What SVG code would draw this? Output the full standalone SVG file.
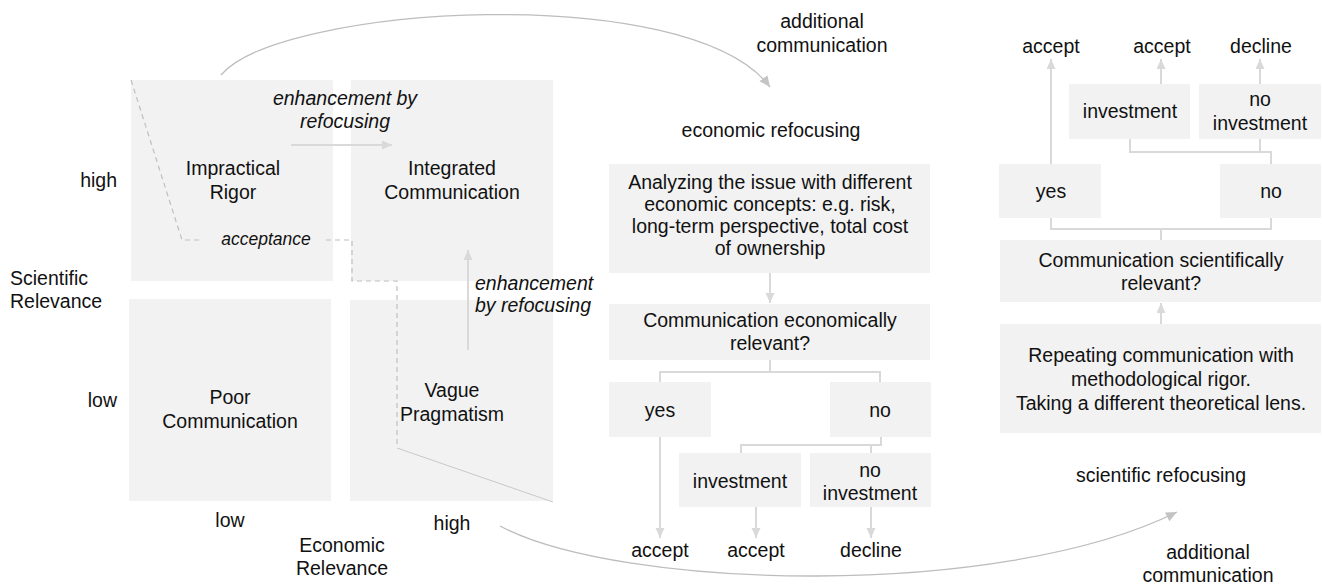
<svg xmlns="http://www.w3.org/2000/svg" width="1322" height="586" viewBox="0 0 1322 586">
  <style>
    text { font-family: "Liberation Sans", Arial, sans-serif; font-size: 19.5px; fill: #111; }
    .c { text-anchor: middle; }
    .e { text-anchor: end; }
    .it { font-style: italic; }
    .sm { font-size: 17.5px; }
    .box { fill: #f2f2f2; }
    .link { fill: none; stroke: #d9d9d9; stroke-width: 2; }
    .arrow { fill: none; stroke: #d9d9d9; stroke-width: 2; marker-end: url(#head); }
    .curve { fill: none; stroke: #bdbdbd; stroke-width: 1.3; marker-end: url(#headCurve); }
    .dash { fill: none; stroke: #bfbfbf; stroke-width: 1.2; stroke-dasharray: 5 4; }
    .thin { fill: none; stroke: #c8c8c8; stroke-width: 1; }
  </style>
  <defs>
    <marker id="head" markerUnits="userSpaceOnUse" markerWidth="11" markerHeight="10" refX="10" refY="4.5" orient="auto">
      <path d="M0,0 L10,4.5 L0,9 z" fill="#d9d9d9"/>
    </marker>
    <marker id="headCurve" markerUnits="userSpaceOnUse" markerWidth="12" markerHeight="11" refX="11" refY="5" orient="auto">
      <path d="M0,0 L11,5 L0,10 z" fill="#c4c4c4"/>
    </marker>
  </defs>

  <!-- Portfolio matrix axes -->
  <g id="axis-scientific">
    <text class="e" x="117" y="187">high</text>
    <text x="10" y="285">Scientific</text>
    <text x="10" y="308">Relevance</text>
    <text class="e" x="117" y="407">low</text>
  </g>
  <g id="axis-economic">
    <text class="c" x="230" y="527">low</text>
    <text class="c" x="452" y="530">high</text>
    <text class="c" x="342" y="552">Economic</text>
    <text class="c" x="342" y="575">Relevance</text>
  </g>

  <!-- Quadrants -->
  <g id="q-impractical-rigor">
    <rect class="box" x="131" y="80" width="202" height="201"/>
    <text class="c" x="233" y="175">Impractical</text>
    <text class="c" x="233" y="199">Rigor</text>
  </g>
  <g id="q-integrated-communication">
    <rect class="box" x="351" y="80" width="202" height="201"/>
    <text class="c" x="452" y="175">Integrated</text>
    <text class="c" x="452" y="199">Communication</text>
  </g>
  <g id="q-poor-communication">
    <rect class="box" x="129" y="299" width="202" height="202"/>
    <text class="c" x="230" y="404">Poor</text>
    <text class="c" x="230" y="428">Communication</text>
  </g>
  <g id="q-vague-pragmatism">
    <rect class="box" x="350" y="300" width="203" height="201"/>
    <text class="c" x="452" y="397">Vague</text>
    <text class="c" x="452" y="421">Pragmatism</text>
  </g>

  <!-- Economic refocusing branch -->
  <g id="lbl-economic-refocusing">
    <text class="c" x="771" y="137">economic refocusing</text>
  </g>
  <g id="eco-analyze">
    <rect class="box" x="609" y="164" width="321" height="109"/>
    <text class="c" x="770" y="189">Analyzing the issue with different</text>
    <text class="c" x="770" y="211">economic concepts: e.g. risk,</text>
    <text class="c" x="770" y="233">long-term perspective, total cost</text>
    <text class="c" x="770" y="255">of ownership</text>
  </g>
  <g id="eco-question">
    <rect class="box" x="609" y="304" width="321" height="56"/>
    <text class="c" x="770" y="327">Communication economically</text>
    <text class="c" x="770" y="350">relevant?</text>
  </g>
  <g id="eco-yes">
    <rect class="box" x="609" y="382" width="102" height="55"/>
    <text class="c" x="660" y="417">yes</text>
  </g>
  <g id="eco-no">
    <rect class="box" x="830" y="382" width="101" height="55"/>
    <text class="c" x="880" y="417">no</text>
  </g>
  <g id="eco-investment">
    <rect class="box" x="679" y="453" width="122" height="54"/>
    <text class="c" x="740" y="488">investment</text>
  </g>
  <g id="eco-no-investment">
    <rect class="box" x="810" y="453" width="121" height="54"/>
    <text class="c" x="870" y="477">no</text>
    <text class="c" x="870" y="500">investment</text>
  </g>
  <g id="eco-outcomes">
    <text class="c" x="660" y="557">accept</text>
    <text class="c" x="756" y="557">accept</text>
    <text class="c" x="871" y="557">decline</text>
  </g>

  <!-- Scientific refocusing branch -->
  <g id="sci-outcomes">
    <text class="c" x="1051" y="53">accept</text>
    <text class="c" x="1162" y="53">accept</text>
    <text class="c" x="1261" y="53">decline</text>
  </g>
  <g id="sci-investment">
    <rect class="box" x="1069" y="84" width="121" height="55"/>
    <text class="c" x="1130" y="118">investment</text>
  </g>
  <g id="sci-no-investment">
    <rect class="box" x="1199" y="84" width="122" height="55"/>
    <text class="c" x="1260" y="106">no</text>
    <text class="c" x="1260" y="130">investment</text>
  </g>
  <g id="sci-yes">
    <rect class="box" x="999" y="164" width="102" height="54"/>
    <text class="c" x="1051" y="198">yes</text>
  </g>
  <g id="sci-no">
    <rect class="box" x="1220" y="164" width="101" height="54"/>
    <text class="c" x="1271" y="198">no</text>
  </g>
  <g id="sci-question">
    <rect class="box" x="1000" y="240" width="321" height="62"/>
    <text class="c" x="1161" y="267">Communication scientifically</text>
    <text class="c" x="1161" y="290">relevant?</text>
  </g>
  <g id="sci-repeat">
    <rect class="box" x="1000" y="324" width="321" height="109"/>
    <text class="c" x="1161" y="362">Repeating communication with</text>
    <text class="c" x="1161" y="386">methodological rigor.</text>
    <text class="c" x="1161" y="410">Taking a different theoretical lens.</text>
  </g>
  <g id="lbl-scientific-refocusing">
    <text class="c" x="1161" y="482">scientific refocusing</text>
  </g>

  <!-- Curve labels -->
  <g id="lbl-additional-top">
    <text class="c" x="822" y="28">additional</text>
    <text class="c" x="822" y="52">communication</text>
  </g>
  <g id="lbl-additional-bottom">
    <text class="c" x="1208" y="559">additional</text>
    <text class="c" x="1208" y="582">communication</text>
  </g>

  <!-- Matrix movement labels -->
  <g id="lbl-enhance-horizontal">
    <text class="c it" x="345" y="105">enhancement by</text>
    <text class="c it" x="345" y="128">refocusing</text>
  </g>
  <g id="lbl-enhance-vertical">
    <text class="it" x="475" y="290">enhancement</text>
    <text class="it" x="475" y="312">by refocusing</text>
  </g>
  <g id="lbl-acceptance">
    <text class="c it sm" x="266" y="245">acceptance</text>
  </g>

  <!-- Connectors -->
  <g id="connectors">
    <!-- matrix -->
    <path class="arrow" d="M291,145 L392,145"/>
    <path class="arrow" d="M468,350 L468,250"/>
    <path class="dash" d="M131,80 L182,240 L200,240"/>
    <path class="dash" d="M326,240 L352,240 L352,281 L397,281 L397,448"/>
    <path class="thin" d="M397,448 L553,502"/>
    <path class="curve" d="M221,75 C280,5 690,-20 770,87"/>
    <path class="curve" d="M500,526 C620,590 1000,600 1177,512"/>

    <!-- economic branch -->
    <path class="arrow" d="M770,273 L770,303"/>
    <path class="link" d="M770,360 L770,372 M660,382 L660,372 L880,372 L880,382"/>
    <path class="link" d="M881,437 L881,445 L741,445 L741,453 M871,445 L871,453"/>
    <path class="arrow" d="M660,437 L660,538"/>
    <path class="arrow" d="M756,507 L756,538"/>
    <path class="arrow" d="M871,507 L871,538"/>

    <!-- scientific branch -->
    <path class="arrow" d="M1161,324 L1161,303"/>
    <path class="link" d="M1161,240 L1161,229 M1051,218 L1051,229 L1271,229 L1271,218"/>
    <path class="link" d="M1130,139 L1130,152 L1271,152 L1271,164 M1260,139 L1260,152"/>
    <path class="arrow" d="M1051,164 L1051,59"/>
    <path class="arrow" d="M1161,84 L1161,59"/>
    <path class="arrow" d="M1260,84 L1260,59"/>
  </g>
</svg>
